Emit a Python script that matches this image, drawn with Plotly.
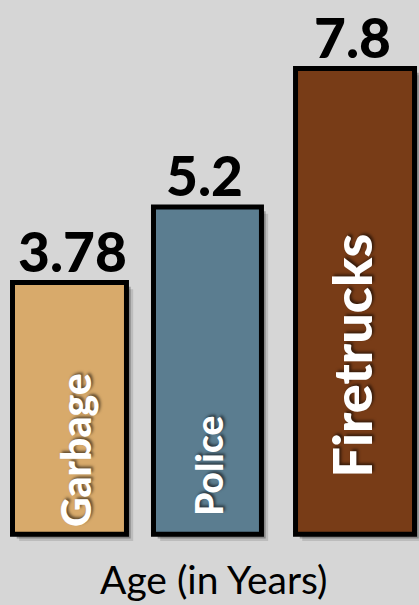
import plotly.graph_objects as go

# ---- data ----
CATEGORIES = ["Garbage", "Police", "Firetrucks"]
VALUES = [3.78, 5.2, 7.8]
VALUE_LABELS = ["3.78", "5.2", "7.8"]
AXIS_TITLE = "Age (in Years)"

# ---- styles ----
COLORS = ["#d8aa6b", "#5b7d90", "#783c17"]
BASE = -0.95                      # where bars start on the value axis
WIDTHS = [0.816, 0.773, 0.852]
OFFSETS = [-0.4105, -0.401, -0.384]
LABEL_SIZES = [41, 37, 54]
LABEL_XSHIFT = [5, -1, 2]
LABEL_YSHIFT = [5, 16, 55]
VALUE_XSHIFT = [3, -5, 3]
FONT = "Lato, 'Open Sans', sans-serif"
SH_X = 0.03   # shadow offset (category units)
SH_Y = 0.08   # shadow offset (value units)

fig = go.Figure()

# soft drop shadow
for k, a in [(1.0, 0.28), (1.6, 0.12)]:
    fig.add_trace(go.Bar(
        x=CATEGORIES,
        y=[v - BASE for v in VALUES],
        base=BASE - SH_Y * k,
        width=WIDTHS,
        offset=[o + SH_X * k for o in OFFSETS],
        marker=dict(color=f"rgba(0,0,0,{a})", line=dict(width=0)),
        hoverinfo="skip",
        showlegend=False,
    ))

fig.add_trace(go.Bar(
    x=CATEGORIES,
    y=[v - BASE for v in VALUES],
    base=BASE,
    width=WIDTHS,
    offset=OFFSETS,
    marker=dict(color=COLORS, line=dict(color="black", width=5)),
    customdata=VALUES,
    hovertemplate="%{x}: %{customdata}<extra></extra>",
    showlegend=False,
))

annotations = []
for i, c in enumerate(CATEGORIES):
    annotations.append(dict(
        x=c, y=VALUES[i], xref="x", yref="y",
        text=VALUE_LABELS[i],
        showarrow=False, yanchor="bottom", xanchor="center",
        xshift=VALUE_XSHIFT[i], yshift=-3,
        font=dict(family=FONT, size=55, color="black", weight=900),
    ))
    annotations.append(dict(
        x=c, y=BASE, xref="x", yref="y",
        text=c, textangle=-90,
        showarrow=False, yanchor="bottom", xanchor="center",
        xshift=LABEL_XSHIFT[i], yshift=LABEL_YSHIFT[i],
        font=dict(family=FONT, size=LABEL_SIZES[i], color="white", weight=900,
                  shadow="2px 2px 3px rgba(0,0,0,0.55)"),
    ))

annotations.append(dict(
    x=0.51, y=0, xref="paper", yref="paper",
    text=AXIS_TITLE, showarrow=False,
    yanchor="bottom", xanchor="center", yshift=-44,
    font=dict(family=FONT, size=39, color="black"),
))

fig.update_layout(
    width=419, height=605,
    margin=dict(l=0, r=0, t=0, b=45),
    paper_bgcolor="#d6d6d6",
    plot_bgcolor="rgba(0,0,0,0)",
    barmode="overlay",
    xaxis=dict(showgrid=False, zeroline=False, showticklabels=False,
               showline=False, ticks="", range=[-0.5, 2.5]),
    yaxis=dict(showgrid=False, zeroline=False, showticklabels=False,
               showline=False, ticks="", range=[-1.433, 9.087]),
    annotations=annotations,
)

fig.write_html("out.html")
